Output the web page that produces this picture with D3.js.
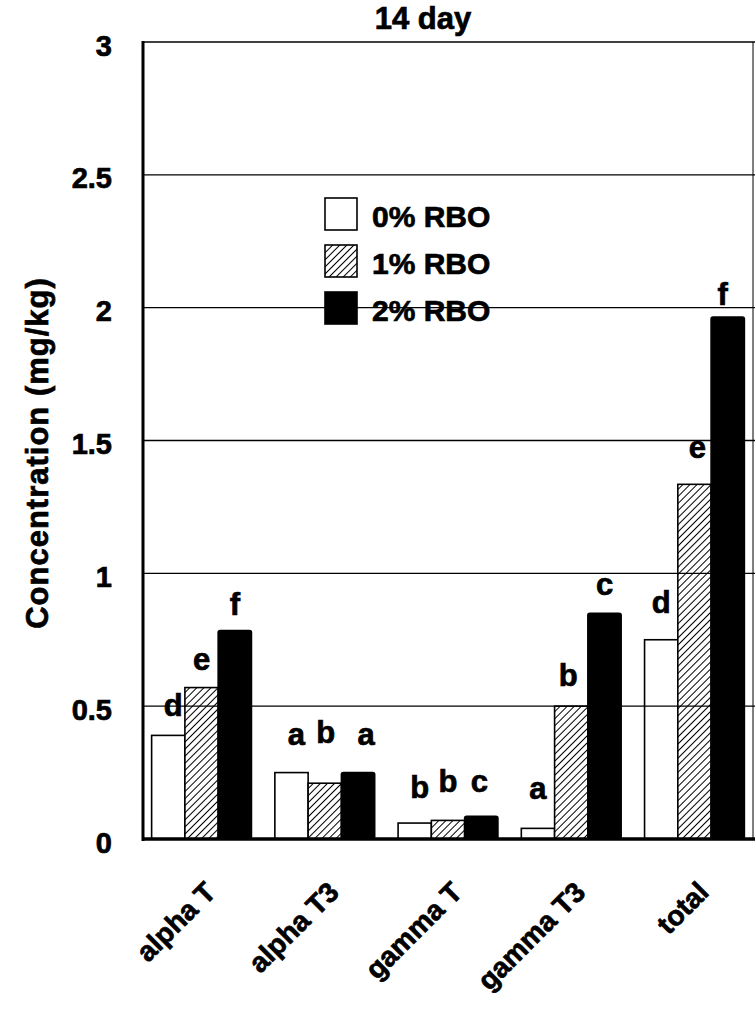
<!DOCTYPE html>
<html>
<head>
<meta charset="utf-8">
<script src="https://cdn.jsdelivr.net/npm/d3@7"></script>
<style>
  html, body { margin: 0; padding: 0; background: #fff; }
  svg { display: block; }
  text { font-family: "Liberation Sans", Arial, Helvetica, sans-serif; font-weight: bold; fill: #000;
         stroke: #000; stroke-width: 0.7px; }
</style>
</head>
<body>
<svg id="chart" width="755" height="1012"></svg>
<script>
// Tocopherol / tocotrienol concentrations after 14 days, by dietary RBO level
const categories = ["alpha T", "alpha T3", "gamma T", "gamma T3", "total"];
const seriesNames = ["0% RBO", "1% RBO", "2% RBO"];
const rbo0 = [0.39, 0.25, 0.06, 0.04, 0.75];
const rbo1 = [0.57, 0.21, 0.07, 0.50, 1.335];
const rbo2 = [0.785, 0.25, 0.085, 0.85, 1.965];
const letters0 = ["d", "a", "b", "a", "d"];
const letters1 = ["e", "b", "b", "b", "e"];
const letters2 = ["f", "a", "c", "c", "f"];
const yTicks = [0, 0.5, 1, 1.5, 2, 2.5, 3];
const title = "14 day";
const yTitle = "Concentration (mg/kg)";

// letter placement: pixels above the bar top, and sideways shift
const lift = [[19, 28, 25, 29, 27], [18, 40, 28, 20, 26], [15, 28, 24, 18, 12]];
const shift = [[5, 5, 5, 0, 0], [0, 1, 0, -3, 3], [0, 8, -2, 0, -5]];

const values = [rbo0, rbo1, rbo2];
const letters = [letters0, letters1, letters2];

const svg = d3.select("#chart");
const plotLeft = 143, plotRight = 753, plotTop = 42, plotBottom = 839;

const y = d3.scaleLinear().domain([0, 3]).range([plotBottom, plotTop]);
const x = d3.scaleBand().domain(categories).range([plotLeft, plotRight])
  .paddingInner(0.19).paddingOuter(0.07);
const xs = d3.scaleBand().domain(d3.range(seriesNames.length)).range([0, x.bandwidth()]);

// diagonal hatch for the 1% series
const defs = svg.append("defs");
const pat = defs.append("pattern").attr("id", "hatch")
  .attr("patternUnits", "userSpaceOnUse").attr("width", 5).attr("height", 5)
  .attr("patternTransform", "rotate(45)");
pat.append("rect").attr("width", 5).attr("height", 5).attr("fill", "#fff");
pat.append("line").attr("x1", 0).attr("y1", 0).attr("x2", 0).attr("y2", 5)
  .attr("stroke", "#000").attr("stroke-width", 2);

const fills = ["#fff", "url(#hatch)", "#000"];

// bars
const bars = svg.append("g");
values.forEach((vals, s) => {
  bars.selectAll(null).data(vals).enter().append("rect")
    .attr("x", (d, i) => x(categories[i]) + xs(s))
    .attr("y", d => y(d))
    .attr("width", xs.bandwidth())
    .attr("height", d => y(0) - y(d))
    .attr("fill", fills[s])
    .attr("stroke", "#000").attr("stroke-width", 1.6)
    .attr("rx", s === 2 ? 2 : 0);
});

// horizontal grid lines, drawn above the bars
svg.append("g").selectAll("line").data(yTicks.filter(t => t > 0)).enter().append("line")
  .attr("x1", plotLeft).attr("x2", 755)
  .attr("y1", d => y(d)).attr("y2", d => y(d))
  .attr("stroke", "#000").attr("stroke-width", 1.4);

// frame: right edge, left axis, baseline
svg.append("line").attr("x1", plotRight).attr("x2", plotRight).attr("y1", plotTop).attr("y2", plotBottom)
  .attr("stroke", "#000").attr("stroke-width", 1);
svg.append("line").attr("x1", plotLeft).attr("x2", plotLeft).attr("y1", plotTop - 1).attr("y2", plotBottom + 2)
  .attr("stroke", "#000").attr("stroke-width", 3);
svg.append("line").attr("x1", plotLeft - 1).attr("x2", 755).attr("y1", plotBottom).attr("y2", plotBottom)
  .attr("stroke", "#000").attr("stroke-width", 3.5);

// y axis labels
const yAxis = d3.axisLeft(y).tickValues(yTicks).tickSize(0).tickPadding(31)
  .tickFormat(d3.format("~g"));
const ya = svg.append("g").attr("transform", `translate(${plotLeft},0)`).call(yAxis);
ya.select(".domain").remove();
ya.selectAll("text").attr("font-size", 29).attr("dy", 13)
  .style("font-family", "Liberation Sans, Arial, sans-serif").style("font-weight", "bold");

// letter annotations
values.forEach((vals, s) => {
  svg.append("g").selectAll("text").data(vals).enter().append("text")
    .attr("x", (d, i) => x(categories[i]) + xs(s) + xs.bandwidth() / 2 + shift[s][i])
    .attr("y", (d, i) => y(d) - lift[s][i])
    .attr("text-anchor", "middle").attr("font-size", 31)
    .text((d, i) => letters[s][i]);
});

// category labels, rotated
const xAxis = d3.axisBottom(x).tickSize(0).tickPadding(0);
const xa = svg.append("g").attr("transform", `translate(0,${plotBottom})`).call(xAxis);
xa.select(".domain").remove();
xa.selectAll("text")
  .attr("font-size", 28).attr("text-anchor", "end")
  .attr("transform", "translate(2,41) rotate(-45)")
  .attr("dy", "0.7em").attr("y", 0)
  .style("font-family", "Liberation Sans, Arial, sans-serif").style("font-weight", "bold");

// title
svg.append("text").attr("x", 423).attr("y", 29).attr("text-anchor", "middle")
  .attr("font-size", 31).text(title);

// y axis title
svg.append("text").attr("transform", "translate(48,453) rotate(-90)")
  .attr("text-anchor", "middle").attr("font-size", 31).attr("letter-spacing", 1)
  .text(yTitle);

// legend
const legend = svg.append("g");
seriesNames.forEach((name, s) => {
  const row = legend.append("g").attr("transform", `translate(325,${198 + s * 47})`);
  row.append("rect").attr("width", 32).attr("height", 32)
    .attr("fill", fills[s]).attr("stroke", "#000").attr("stroke-width", 1.6);
  row.append("text").attr("x", 47).attr("y", 29).attr("font-size", 30).text(name);
});
</script>
</body>
</html>
